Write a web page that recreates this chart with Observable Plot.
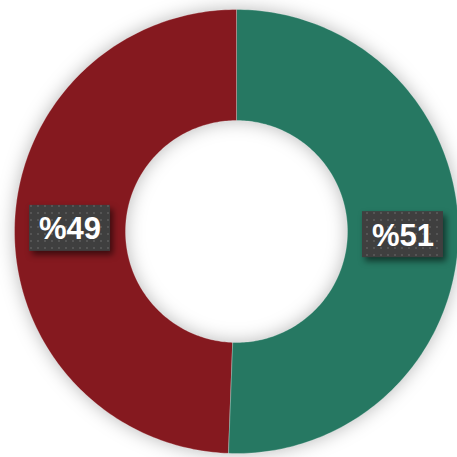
<!DOCTYPE html>
<html>
<head>
<meta charset="utf-8">
<script src="https://cdn.jsdelivr.net/npm/d3@7"></script>
<script src="https://cdn.jsdelivr.net/npm/@observablehq/plot@0.6"></script>
<style>
  html, body { margin: 0; padding: 0; background: #ffffff; }
  .donut { filter: drop-shadow(0 0 9px rgba(0,0,0,0.28)); }
  .lbox { filter: drop-shadow(3px 4px 3px rgba(0,0,0,0.55)); }
</style>
</head>
<body>
<div id="chart"></div>
<script>
// Data
const categories = ["Seri 1", "Seri 2"];
const values = [50.6, 49.4];
const colors = ["#267862", "#85191F"];
const labels = values.map(v => "%" + Math.round(v));

const innerRatio = 0.5;
const labelRatio = (1 + innerRatio) / 2;

const pie = d3.pie().sort(null).startAngle(0).endAngle(2 * Math.PI);
const arcs = pie(values);

// polygon points for each slice (computed from the data)
const pts = [];
arcs.forEach((a, i) => {
  const n = 180;
  for (let k = 0; k <= n; k++) {
    const t = a.startAngle + (a.endAngle - a.startAngle) * k / n;
    pts.push({cat: categories[i], x: Math.sin(t), y: Math.cos(t)});
  }
  for (let k = n; k >= 0; k--) {
    const t = a.startAngle + (a.endAngle - a.startAngle) * k / n;
    pts.push({cat: categories[i], x: innerRatio * Math.sin(t), y: innerRatio * Math.cos(t)});
  }
});

const lab = arcs.map((a, i) => {
  const m = (a.startAngle + a.endAngle) / 2;
  return {cat: categories[i], label: labels[i], x: labelRatio * Math.sin(m), y: labelRatio * Math.cos(m)};
});

const cx = 236, cy = 231, R = 222;

const plot = Plot.plot({
  width: 457,
  height: 457,
  margin: 0,
  x: {domain: [-1, 1], range: [cx - R, cx + R], axis: null},
  y: {domain: [-1, 1], range: [cy + R, cy - R], axis: null},
  color: {domain: categories, range: colors},
  marks: [
    Plot.line(pts, {x: "x", y: "y", z: "cat", fill: "cat", curve: "linear-closed",
      stroke: "#ffffff", strokeOpacity: 0.25, strokeWidth: 1, className: "donut"}),
    Plot.rect(lab, {x1: "x", x2: "x", y1: "y", y2: "y",
      insetLeft: -40.5, insetRight: -40.5, insetTop: -23, insetBottom: -23,
      fill: "url(#dots)", className: "lbox"}),
    Plot.text(lab, {x: "x", y: "y", text: "label", fill: "#ffffff", fontSize: 31,
      fontWeight: "bold", fontFamily: "Liberation Sans, Arial, sans-serif", dy: 1})
  ]
});

// pattern for label boxes
const ns = "http://www.w3.org/2000/svg";
const defs = document.createElementNS(ns, "defs");
defs.innerHTML = '<pattern id="dots" width="7" height="7" patternUnits="userSpaceOnUse">' +
  '<rect width="7" height="7" fill="#3f3f3f"/><rect x="2" y="2" width="2" height="2" fill="#555555"/></pattern>';
plot.insertBefore(defs, plot.firstChild);

document.getElementById("chart").appendChild(plot);
</script>
</body>
</html>
